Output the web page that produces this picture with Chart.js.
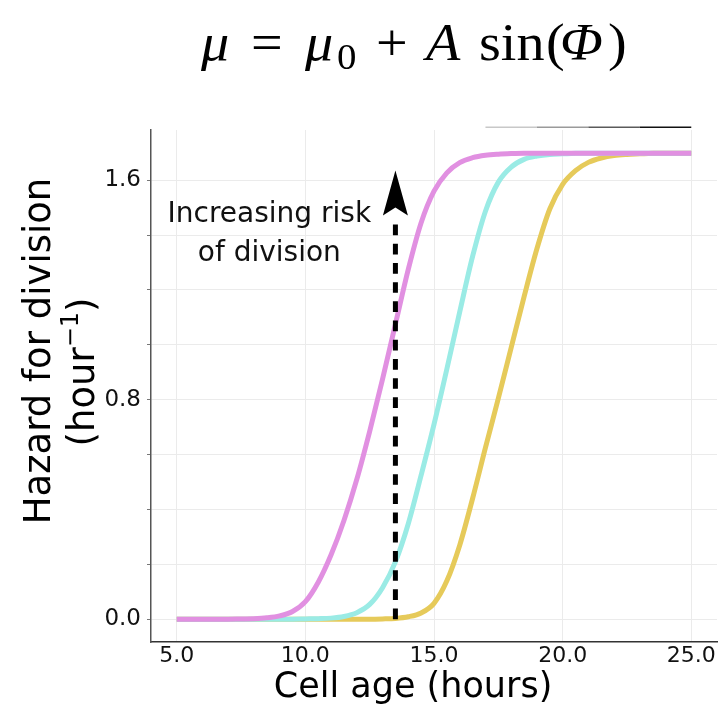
<!DOCTYPE html>
<html>
<head>
<meta charset="utf-8">
<script src="https://cdn.jsdelivr.net/npm/chart.js@4/dist/chart.umd.min.js"></script>
<style>
  body { margin: 0; background: #fff; }
  canvas { display: block; }
</style>
</head>
<body>
<canvas id="hazardChart" width="723" height="709"></canvas>
<script>
// cell age (hours), one sample every half hour
var ages = [5, 5.5, 6, 6.5, 7, 7.5, 8, 8.5, 9, 9.5, 10, 10.5, 11, 11.5, 12, 12.5, 13, 13.5, 14, 14.5,
    15, 15.5, 16, 16.5, 17, 17.5, 18, 18.5, 19, 19.5, 20, 20.5, 21, 21.5, 22, 22.5, 23, 23.5, 24, 24.5, 25];

// hazard for division (1/hour)
var hazardEarly = [0, 0, 0, 0, 0, 0.001, 0.002, 0.005, 0.012, 0.028, 0.064, 0.135, 0.235, 0.36, 0.51, 0.685,
    0.875, 1.075, 1.275, 1.445, 1.56, 1.627, 1.664, 1.682, 1.691, 1.695, 1.697, 1.698, 1.698, 1.698,
    1.698, 1.698, 1.698, 1.698, 1.698, 1.698, 1.698, 1.698, 1.698, 1.698, 1.698];
var hazardMid = [0, 0, 0, 0, 0, 0, 0, 0, 0, 0, 0.001, 0.002, 0.004, 0.01, 0.024, 0.054, 0.115, 0.209, 0.348,
    0.525, 0.71, 0.912, 1.12, 1.322, 1.487, 1.593, 1.648, 1.676, 1.688, 1.694, 1.696, 1.698, 1.698,
    1.698, 1.698, 1.698, 1.698, 1.698, 1.698, 1.698, 1.698];
var hazardLate = [0, 0, 0, 0, 0, 0, 0, 0, 0, 0, 0, 0, 0, 0, 0, 0, 0.001, 0.003, 0.009, 0.023, 0.058, 0.14,
    0.27, 0.44, 0.625, 0.805, 0.99, 1.175, 1.35, 1.495, 1.585, 1.635, 1.665, 1.681, 1.69, 1.694, 1.696,
    1.698, 1.698, 1.698, 1.698];

var xTicks = [5, 10, 15, 20, 25];
var yGrid = [0, 0.2, 0.4, 0.6, 0.8, 1.0, 1.2, 1.4, 1.6];
var yLabels = [0, 0.8, 1.6];

// the dashed arrow and its note, in data units
var arrowAge = 13.5;
var arrowFrom = 0;
var arrowTo = 1.635;
var noteLines = ["Increasing risk", "of division"];
var noteAge = 8.6;
var noteHazard = [1.446, 1.304];

function toPoints(values) {
    return ages.map(function (a, i) { return { x: a, y: values[i] }; });
}

function curve(values, color) {
    return {
        data: toPoints(values),
        borderColor: color,
        backgroundColor: color,
        borderWidth: 5,
        pointRadius: 0,
        cubicInterpolationMode: "monotone",
        fill: false
    };
}

var sans = "'DejaVu Sans', sans-serif";
var serif = "'Liberation Serif', 'Times New Roman', serif";

var annotations = {
    id: "annotations",
    afterDatasetsDraw: function (chart) {
        var ctx = chart.ctx;
        var xs = chart.scales.x, ys = chart.scales.y;
        var ax = xs.getPixelForValue(arrowAge);
        var y0 = ys.getPixelForValue(arrowFrom);
        var tip = ys.getPixelForValue(arrowTo);
        ctx.save();
        ctx.strokeStyle = "#000";
        ctx.fillStyle = "#000";
        ctx.lineWidth = 5;
        ctx.setLineDash([10.7, 8.5]);
        ctx.beginPath();
        ctx.moveTo(ax, y0);
        ctx.lineTo(ax, tip + 53);
        ctx.stroke();
        ctx.setLineDash([]);
        ctx.beginPath();
        ctx.moveTo(ax, tip);
        ctx.lineTo(ax + 12.5, tip + 45);
        ctx.lineTo(ax, tip + 37);
        ctx.lineTo(ax - 12.5, tip + 45);
        ctx.closePath();
        ctx.fill();

        // note text
        ctx.font = "28px " + sans;
        ctx.fillStyle = "#111";
        ctx.textAlign = "center";
        ctx.textBaseline = "alphabetic";
        var nx = xs.getPixelForValue(noteAge);
        noteLines.forEach(function (t, i) {
            ctx.fillText(t, nx, ys.getPixelForValue(noteHazard[i]));
        });
        ctx.restore();
    },
    afterDraw: function (chart) {
        var ctx = chart.ctx;
        var xs = chart.scales.x;
        var area = chart.chartArea;
        ctx.save();

        // leftover strip above the plot, light grey to black
        var greys = ["#c8c8c8", "#9a9a9a", "#5a5a5a", "#111"];
        var sx = xs.getPixelForValue(17), ex = xs.getPixelForValue(25);
        var seg = (ex - sx) / greys.length;
        ctx.lineWidth = 1.5;
        greys.forEach(function (g, i) {
            ctx.strokeStyle = g;
            ctx.beginPath();
            ctx.moveTo(sx + i * seg, area.top - 2.7);
            ctx.lineTo(sx + (i + 1) * seg, area.top - 2.7);
            ctx.stroke();
        });

        // formula on top
        ctx.fillStyle = "#000";
        ctx.textAlign = "left";
        ctx.textBaseline = "alphabetic";
        var it = "italic 52px " + serif, up = "52px " + serif;
        var parts = [
            { t: "\u03bc", f: it, x: 201, y: 60 },
            { t: "=", f: up, x: 251, y: 60 },
            { t: "\u03bc", f: it, x: 305, y: 60 },
            { t: "0", f: "36px " + serif, x: 337, y: 69 },
            { t: "+", f: up, x: 376, y: 60 },
            { t: "A", f: it, x: 426, y: 60 },
            { t: "sin", f: up, x: 479, y: 60 },
            { t: "(", f: up, x: 546, y: 60 },
            { t: "\u03a6", f: it, x: 560, y: 60 },
            { t: ")", f: up, x: 608, y: 60 }
        ];
        parts.forEach(function (p) {
            ctx.save();
            ctx.translate(p.x, p.y);
            ctx.scale(1.08, 1);
            ctx.font = p.f;
            ctx.fillText(p.t, 0, 0);
            ctx.restore();
        });

        // x axis title
        ctx.font = "35px " + sans;
        ctx.fillStyle = "#000";
        ctx.textAlign = "center";
        ctx.fillText("Cell age (hours)", 413, 697);

        // y axis title, two lines
        ctx.save();
        ctx.translate(50, 351);
        ctx.rotate(-Math.PI / 2);
        ctx.font = "37px " + sans;
        ctx.fillText("Hazard for division", 0, 0);
        ctx.restore();

        ctx.save();
        ctx.translate(94, 372);
        ctx.rotate(-Math.PI / 2);
        var big = "37px " + sans, small = "24px " + sans;
        ctx.font = big;
        var w1 = ctx.measureText("(hour").width;
        var w3 = ctx.measureText(")").width;
        ctx.font = small;
        var w2 = ctx.measureText("\u22121").width;
        var start = -(w1 + w2 + w3) / 2;
        ctx.textAlign = "left";
        ctx.font = big;
        ctx.fillText("(hour", start, 0);
        ctx.font = small;
        ctx.fillText("\u22121", start + w1, -16);
        ctx.font = big;
        ctx.fillText(")", start + w1 + w2, 0);
        ctx.restore();

        ctx.restore();
    }
};

window.onload = function () {
    var ctx = document.getElementById("hazardChart").getContext("2d");
    window.hazardChart = new Chart(ctx, {
        type: "line",
        data: {
            datasets: [
                curve(hazardEarly, "#e190e1"),
                curve(hazardMid, "#9aebe5"),
                curve(hazardLate, "#e6ca5a")
            ]
        },
        options: {
            responsive: false,
            animation: false,
            devicePixelRatio: 1,
            layout: { padding: { top: 130, right: 6, left: 0, bottom: 0 } },
            plugins: {
                legend: { display: false },
                tooltip: { enabled: false }
            },
            scales: {
                x: {
                    type: "linear",
                    min: 4,
                    max: 26,
                    afterBuildTicks: function (s) {
                        s.ticks = xTicks.map(function (v) { return { value: v }; });
                    },
                    afterFit: function (s) { s.height = 67; },
                    ticks: {
                        font: { family: sans, size: 22 },
                        color: "#111",
                        maxRotation: 0,
                        padding: 1,
                        callback: function (v) { return Number(v).toFixed(1); }
                    },
                    grid: { color: "#ebebeb", lineWidth: 1, drawTicks: false },
                    border: { color: "#333", width: 1.5 }
                },
                y: {
                    min: -0.083,
                    max: 1.783,
                    afterBuildTicks: function (s) {
                        s.ticks = yGrid.map(function (v) { return { value: v }; });
                    },
                    afterFit: function (s) { s.width = 151; },
                    ticks: {
                        font: { family: sans, size: 23 },
                        color: "#111",
                        padding: 6,
                        callback: function (v) {
                            var hit = yLabels.some(function (l) { return Math.abs(l - v) < 1e-6; });
                            return hit ? Number(v).toFixed(1) : "";
                        }
                    },
                    grid: { color: "#ebebeb", lineWidth: 1, tickLength: 4, tickColor: "#777" },
                    border: { color: "#555", width: 1.5 }
                }
            }
        },
        plugins: [annotations]
    });
};
</script>
</body>
</html>
